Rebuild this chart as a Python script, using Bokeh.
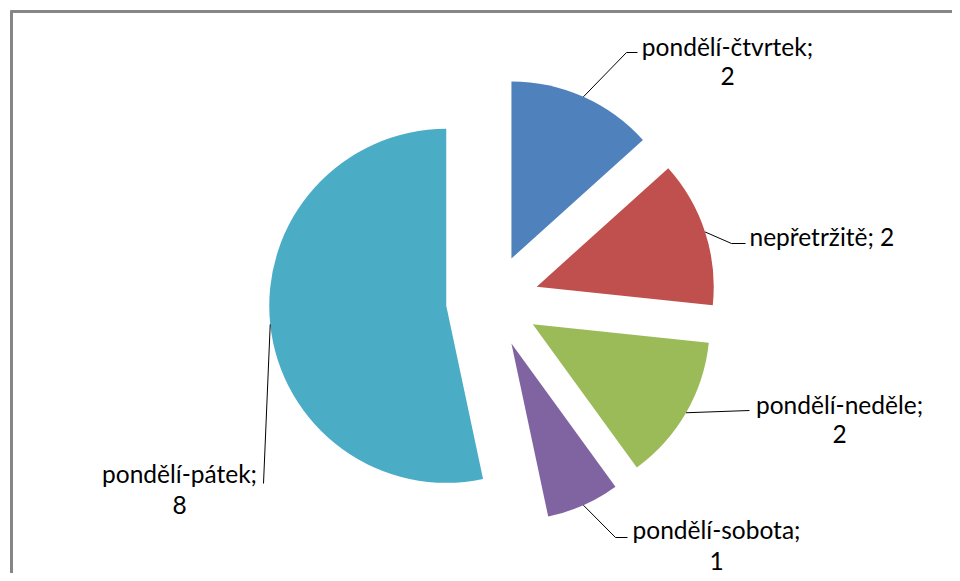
import math
from bokeh.plotting import figure
from bokeh.models import Range1d
from bokeh.core.properties import value
from bokeh.embed import file_html
from bokeh.resources import INLINE

# ---- data ----
categories = ["pondělí-čtvrtek", "nepřetržitě", "pondělí-neděle", "pondělí-sobota", "pondělí-pátek"]
values = [2, 2, 2, 1, 8]
colors = ["#4F81BD", "#C0504D", "#9BBB59", "#8064A2", "#4BACC6"]

# ---- layout (picture pixel coordinates, y downward) ----
W, H = 952, 573
CX, CY = 492.0, 300.5      # pie centre
R = 177.0                  # radius
EXPLODE = 46.5             # explosion distance
FONT = "Lato"
FONT_SIZE = "24.5px"
TEXT_SHIFT = -9            # renderer baseline correction

# label placement: text anchor x, baselines, leader elbow / end points
label_layout = {
    "pondělí-čtvrtek": dict(two=True, x=727, b1=55, b2=84, elbow=(626, 52), end=(637, 52)),
    "nepřetržitě": dict(two=False, x=749, b1=245, elbow=(731, 243), end=(745, 243)),
    "pondělí-neděle": dict(two=True, x=839, b1=413, b2=442, elbow=None, end=(749, 410)),
    "pondělí-sobota": dict(two=True, x=716, b1=538, b2=569, elbow=(615, 537), end=(627, 537)),
    "pondělí-pátek": dict(two=True, x=179, b1=482, b2=513, elbow=None, end=(263, 483)),
}


def Y(py):
    return H - py


p = figure(width=W, height=H, output_backend="svg", toolbar_location=None,
           x_axis_location=None, y_axis_location=None,
           x_range=Range1d(0, W), y_range=Range1d(0, H),
           min_border=0, outline_line_color=None, background_fill_color="white",
           border_fill_color="white")
p.grid.visible = False

# chart border (only top and left visible in the crop)
p.segment(x0=[10, 11], y0=[Y(11), Y(10)], x1=[W + 10, 11], y1=[Y(11), Y(H + 10)],
          line_color="#868686", line_width=3, line_cap="butt")

total = sum(values)
cum = 0.0
for cat, val, col in zip(categories, values, colors):
    a0 = cum / total * 360.0          # clockwise from 12 o'clock
    a1 = (cum + val) / total * 360.0
    cum += val
    mid = math.radians((a0 + a1) / 2)
    # apex of the exploded slice
    ax = CX + EXPLODE * math.sin(mid)
    ay = CY - EXPLODE * math.cos(mid)
    start = math.radians(90 - a1)
    end = math.radians(90 - a0)
    p.wedge(x=[ax], y=[Y(ay)], radius=R, start_angle=start, end_angle=end,
            fill_color=col, line_color=None)

    lay = label_layout[cat]
    # leader line from arc midpoint
    sx = ax + R * math.sin(mid)
    sy = ay - R * math.cos(mid)
    xs = [sx]
    ys = [Y(sy)]
    if lay["elbow"] is not None:
        xs.append(lay["elbow"][0]); ys.append(Y(lay["elbow"][1]))
    xs.append(lay["end"][0]); ys.append(Y(lay["end"][1]))
    p.line(xs, ys, line_color="black", line_width=1)

    common = dict(text_baseline="alphabetic", text_font=value(FONT),
                  text_font_size=FONT_SIZE, text_color="black")
    if lay["two"]:
        p.text(x=[lay["x"]], y=[Y(lay["b1"] + TEXT_SHIFT)], text=[f"{cat};"],
               text_align="center", **common)
        p.text(x=[lay["x"]], y=[Y(lay["b2"] + TEXT_SHIFT)], text=[f"{val}"],
               text_align="center", **common)
    else:
        p.text(x=[lay["x"]], y=[Y(lay["b1"] + TEXT_SHIFT)], text=[f"{cat}; {val}"],
               text_align="left", **common)

open("out.html", "w").write(file_html(p, INLINE))
